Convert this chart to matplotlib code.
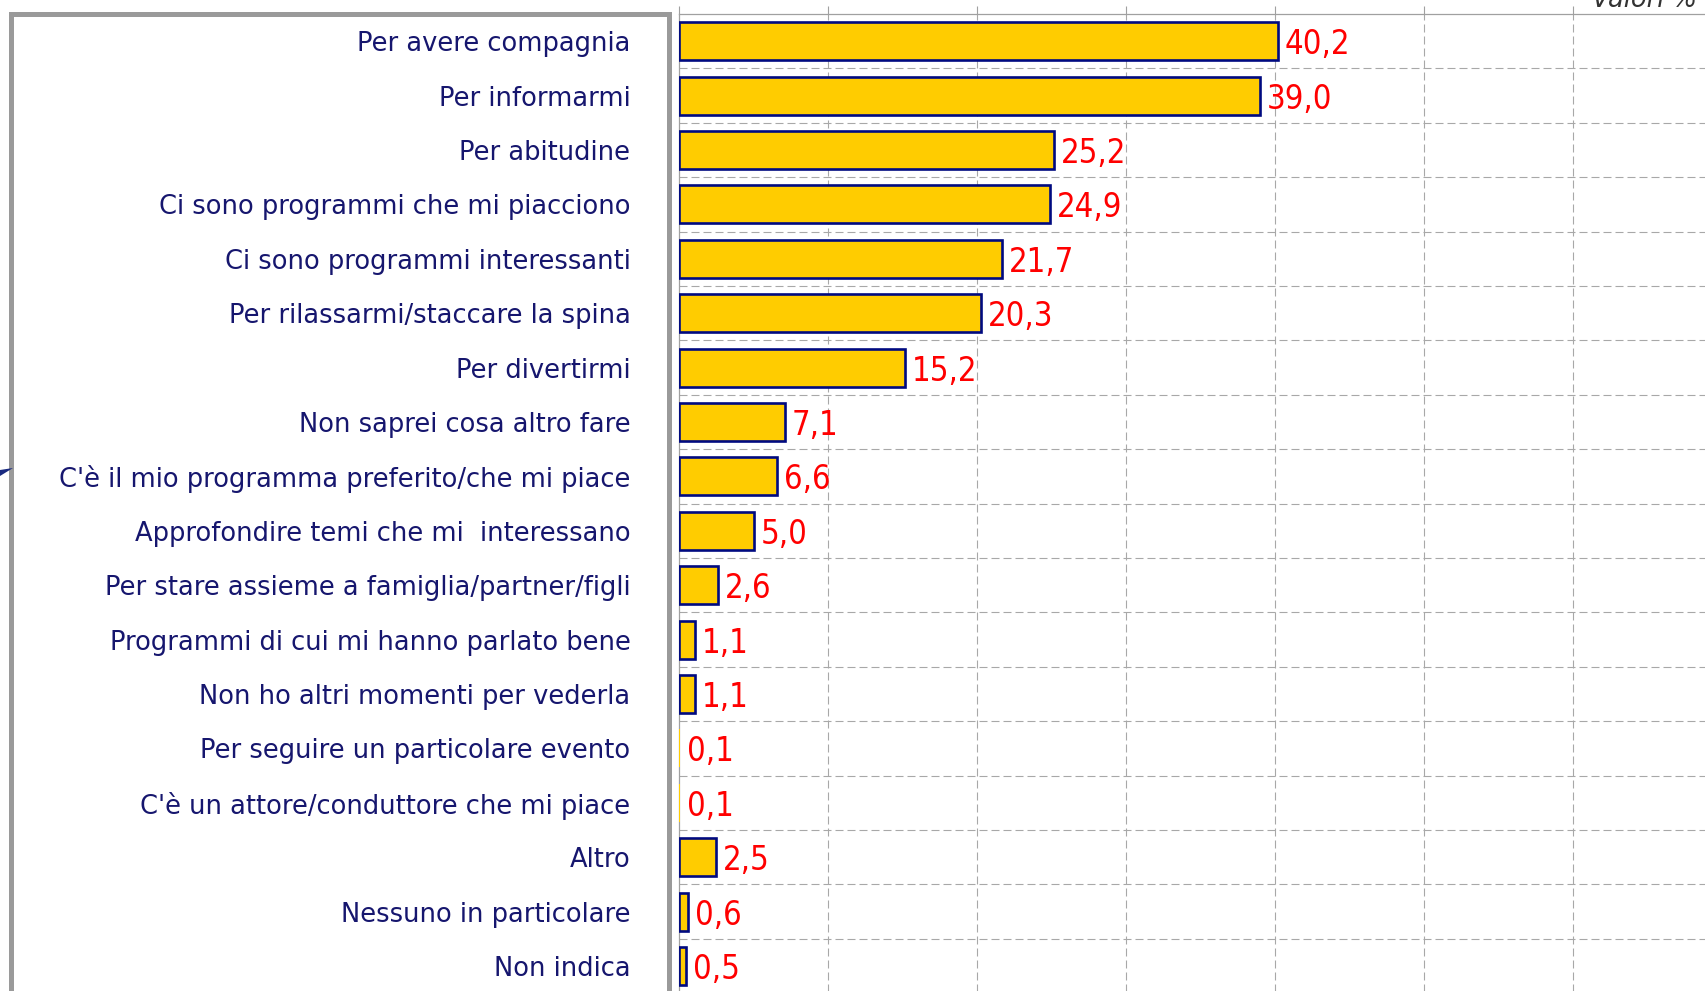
import os
import matplotlib
matplotlib.use("Agg")
import matplotlib.pyplot as plt
from matplotlib import font_manager as fm
from matplotlib.patches import Rectangle, Polygon

# reasons for watching TV (percent values)
categories = [
    "Per avere compagnia",
    "Per informarmi",
    "Per abitudine",
    "Ci sono programmi che mi piacciono",
    "Ci sono programmi interessanti",
    "Per rilassarmi/staccare la spina",
    "Per divertirmi",
    "Non saprei cosa altro fare",
    "C'è il mio programma preferito/che mi piace",
    "Approfondire temi che mi  interessano",
    "Per stare assieme a famiglia/partner/figli",
    "Programmi di cui mi hanno parlato bene",
    "Non ho altri momenti per vederla",
    "Per seguire un particolare evento",
    "C'è un attore/conduttore che mi piace",
    "Altro",
    "Nessuno in particolare",
    "Non indica",
]
values = [40.2, 39.0, 25.2, 24.9, 21.7, 20.3, 15.2, 7.1, 6.6, 5.0,
          2.6, 1.1, 1.1, 0.1, 0.1, 2.5, 0.6, 0.5]
grid_ticks = [0, 10, 20, 30, 40, 50, 60]


def narrow_font(size):
    # look for a condensed face among the installed fonts
    files = {os.path.splitext(os.path.basename(f.fname))[0]: f.fname
             for f in fm.fontManager.ttflist}
    prefs = ["LiberationSansNarrow-Regular", "NotoSans-CondensedMedium",
             "NotoSans-Condensed", "DejaVuSansCondensed",
             "NotoSans-SemiCondensedMedium", "NotoSans-SemiCondensed"]
    for p in prefs:
        if p in files:
            return fm.FontProperties(fname=files[p], size=size)
    for f in fm.fontManager.ttflist:
        if f.stretch in ("condensed", "semi-condensed") and f.style == "normal":
            return fm.FontProperties(fname=f.fname, size=size)
    return fm.FontProperties(family="Roboto", size=size * 0.85)


W, H = 1706, 991
fig = plt.figure(figsize=(W / 100, H / 100), dpi=100)

# axes placement in pixels
ax_left, ax_top = 679, 14
row_px = 54.4
px_per_unit = 14.9
n = len(categories)
ax_h = row_px * n
ax = fig.add_axes([ax_left / W, (H - ax_top - ax_h) / H, (W - ax_left) / W, ax_h / H])

ypos = list(range(n))
lws = [1.9 if v >= 0.2 else 0 for v in values]
ax.barh(ypos, values, height=0.7, color="#FFCC00", edgecolor="#000a80",
        linewidth=lws, zorder=3)

val_font = narrow_font(23.5)
for y, v in zip(ypos, values):
    ax.text(v + 0.45, y, f"{v:.1f}".replace(".", ","), color="#ff0000",
            fontproperties=val_font, va="center_baseline", ha="left", zorder=4)

ax.set_xlim(0, (W - ax_left) / px_per_unit)
ax.set_ylim(n - 0.5, -0.5)

# dashed grid: vertical at ticks, horizontal between rows
for x in grid_ticks[1:]:
    ax.axvline(x, color="#a8a8a8", lw=0.8, ls=(0, (7.2, 3.6)), zorder=1)
for i in range(n - 1):
    ax.axhline(i + 0.5, color="#a8a8a8", lw=0.8, ls=(0, (7.2, 3.6)), zorder=1)

ax.xaxis.tick_top()
ax.set_xticks(grid_ticks)
ax.tick_params(axis="x", direction="out", length=6, width=0.8, color="#a0a0a0",
               labeltop=False)
ax.set_yticks(ypos)
ax.set_yticklabels(categories, fontsize=18.5, color="#16166e", family="DejaVu Sans")
ax.tick_params(axis="y", length=0, pad=35)

for s in ("right", "bottom"):
    ax.spines[s].set_visible(False)
for s in ("top", "left"):
    ax.spines[s].set_color("#a0a0a0")
    ax.spines[s].set_linewidth(0.9)

# gray frame around the label area
fig.patches.append(Rectangle((11.5 / W, -0.05), (669.5 - 11.5) / W, 1.05 - 13.5 / H,
                             transform=fig.transFigure, fill=False,
                             edgecolor="#9a9a9a", linewidth=3.6, zorder=0))
# small navy mark on the left border
fig.patches.append(Polygon([(0, 1 - 470 / H), (13 / W, 1 - 468 / H), (0, 1 - 476 / H)],
                           closed=True, transform=fig.transFigure,
                           facecolor="#1a2a80", edgecolor="none"))

fig.text(1697 / W, 1 - 7 / H, "Valori %", ha="right", va="baseline",
         fontsize=18.5, style="italic", color="#333333", family="DejaVu Sans")

fig.savefig("out.png", dpi=100)
